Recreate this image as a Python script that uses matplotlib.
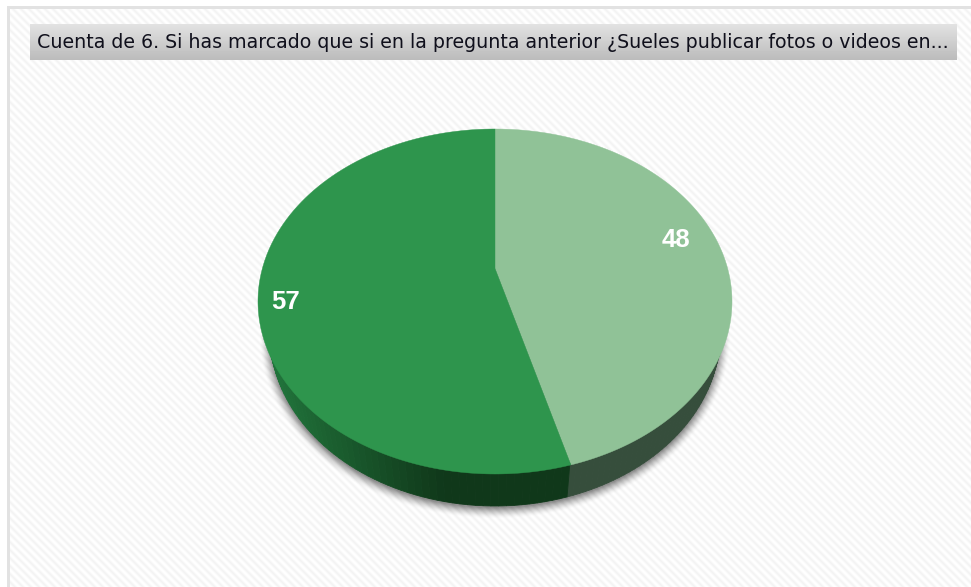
import numpy as np
import matplotlib
matplotlib.use("Agg")
import matplotlib.pyplot as plt
from matplotlib.patches import Polygon, Ellipse, Rectangle
from matplotlib.colors import to_rgb

title = "Cuenta de 6. Si has marcado que si en la pregunta anterior ¿Sueles publicar fotos o videos en..."
categories = ["Si", "No"]
values = [48, 57]
top_colors = ["#90c297", "#2e954d"]
label_xy = [(676, 240), (286, 302)]

W, H = 971, 587
CX, CY, RX, RY = 495.0, 301.5, 237.0, 172.5
BCY, BRX, BRY = 334.0, 225.0, 172.0   # rim of the pie's underside
APEX = -33.0 / RY  # perspective shift of the pie centre

fig = plt.figure(figsize=(W / 100, H / 100), dpi=100)
ax = fig.add_axes([0, 0, 1, 1])
ax.set_xlim(0, W)
ax.set_ylim(H, 0)
ax.axis("off")


def project(theta, r=1.0):
    """Pie angle (clockwise from top) to pixel position, in perspective."""
    u = r * np.sin(theta)
    v = -r * np.cos(theta)
    d = 1 + APEX * v
    return CX + RX * u * np.sqrt(1 - APEX ** 2) / d, CY + RY * (v + APEX) / d


def underside(px, py):
    return CX + (px - CX) * BRX / RX, BCY + (py - CY) * BRY / RY


# background stripes
yy, xx = np.mgrid[0:H, 0:W]
phase = ((xx - yy) % 8) / 8.0
bg = 0.955 + 0.045 * (0.5 + 0.5 * np.cos(2 * np.pi * phase))
ax.imshow(bg, cmap="gray", vmin=0, vmax=1, extent=(0, W, H, 0), aspect="auto",
          zorder=0, interpolation="nearest")
ax.set_xlim(0, W)
ax.set_ylim(H, 0)

# outer frame
ax.add_patch(Rectangle((0, 0), W, 6, fc="white", ec="none", zorder=1))
ax.add_patch(Rectangle((0, 0), 7, H, fc="white", ec="none", zorder=1))
ax.add_patch(Rectangle((7, 6), W - 7, 2.5, fc="#e2e2e2", ec="none", zorder=1))
ax.add_patch(Rectangle((7, 6), 2.5, H - 6, fc="#e2e2e2", ec="none", zorder=1))

# title band
grad = np.linspace(0.885, 0.735, 36).reshape(-1, 1)
ax.imshow(grad, cmap="gray", vmin=0, vmax=1, extent=(30, 957, 60, 24),
          aspect="auto", zorder=2, interpolation="nearest")
ax.set_xlim(0, W)
ax.set_ylim(H, 0)
ax.text(37, 43, title, fontsize=13.66, family="DejaVu Sans", color="#10101c",
        va="center", ha="left", zorder=3)

# soft shadow below the wall
for grow, alpha in zip(np.arange(11, 0, -1), np.linspace(0.012, 0.085, 11)):
    ax.add_patch(Ellipse((CX, BCY + 2), 2 * (BRX + grow - 1), 2 * (BRY + grow - 1),
                         fc="black", ec="none", alpha=alpha, zorder=4))

# side wall and top faces, from the data
angles = np.concatenate([[0], np.cumsum(values) / np.sum(values) * 2 * np.pi])
wall_light = np.array(to_rgb("#364e3c"))
wall_left = np.array(to_rgb("#20723a"))
wall_dark = np.array(to_rgb("#10381a"))
for i in range(len(values)):
    th = np.linspace(angles[i], angles[i + 1], 121)
    px, py = project(th)
    bx, by = underside(px, py)
    ix, iy = project(th, 0.99)
    for k in range(len(th) - 1):
        if py[k] < CY + 5 and py[k + 1] < CY + 5:
            continue
        if i == 0:
            c = wall_light
        else:
            f = np.clip((px[k] - (CX - RX + 15)) / (CX - 50 - (CX - RX + 15)), 0, 1)
            c = wall_left + (wall_dark - wall_left) * f
        ax.add_patch(Polygon([(ix[k], iy[k]), (ix[k + 1], iy[k + 1]),
                              (bx[k + 1], by[k + 1]), (bx[k], by[k])],
                             fc=c, ec=c, lw=0.6, zorder=5))

for i in range(len(values)):
    th = np.linspace(angles[i], angles[i + 1], 241)
    px, py = project(th)
    ax0, ay0 = project(0.0, 0.0)
    ax.add_patch(Polygon(np.column_stack([np.r_[ax0, px], np.r_[ay0, py]]),
                         fc=top_colors[i], ec=top_colors[i], lw=0.3, zorder=6))
    ax.text(*label_xy[i], str(values[i]), color="white", fontsize=18.5, fontweight="bold",
            family="Liberation Sans", ha="center", va="center", zorder=7)

fig.savefig("out.png", dpi=100)
